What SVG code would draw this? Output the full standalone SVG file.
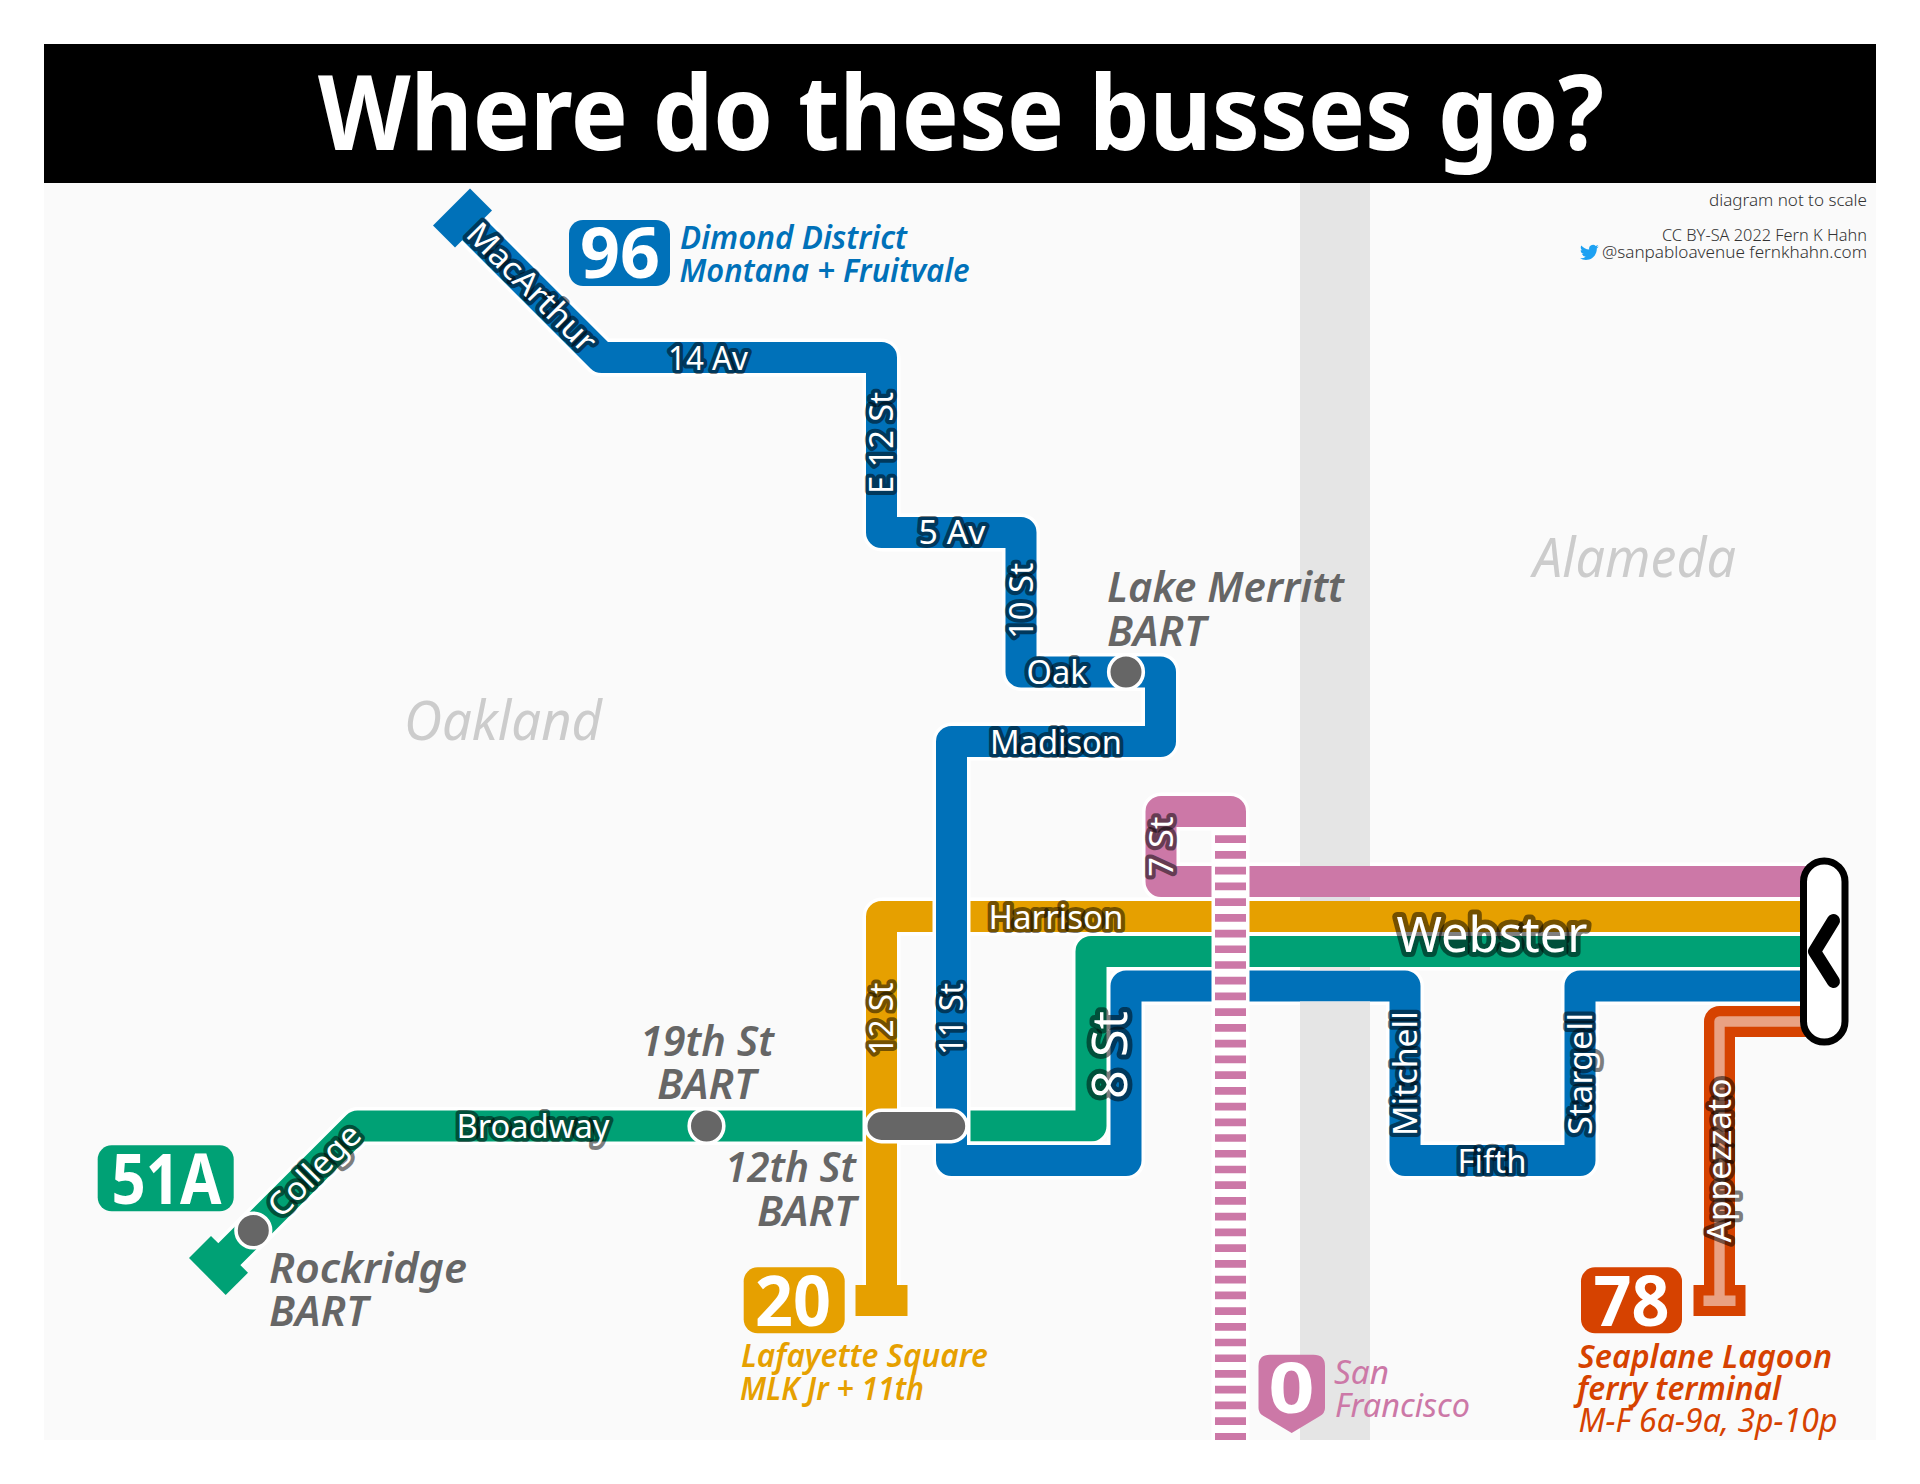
<svg xmlns="http://www.w3.org/2000/svg" width="1920" height="1484" viewBox="0 0 1920 1484">
<style>
text{font-family:"Noto Sans","Open Sans","Liberation Sans",sans-serif}
.l{fill:none;stroke-linejoin:round;stroke-linecap:butt}
.c{stroke:#fff;stroke-width:38}
.w{stroke-width:31}
.blue{stroke:#0071b9}.green{stroke:#00a175}.orange{stroke:#e6a000}.pink{stroke:#cc78a7}.red{stroke:#d64200}
.st{font-size:32px;font-weight:400;fill:#fff;stroke:#000;stroke-opacity:.5;stroke-width:8px;stroke-linejoin:round;paint-order:stroke;text-anchor:middle}
.big{font-size:50px}
.gr{fill:#666;font-size:42px;font-style:italic;font-weight:600}
.pl{fill:#ccc;font-size:54px;font-style:italic}
.num{fill:#fff;font-weight:700;font-size:70px;text-anchor:middle}
.dest{font-size:32px;font-style:italic;font-weight:600}
.sm{font-size:17px;fill:#333;font-weight:300;text-anchor:end}
.stn{fill:#666;stroke:#fff;stroke-width:3.6}
</style>
<rect width="1920" height="1484" fill="#fff"/>
<rect x="44" y="183" width="1832" height="1257" fill="#fafafa"/>
<rect x="1300" y="183" width="70" height="1257" fill="#e5e5e5"/>
<g id="title"><rect x="44" y="44" width="1832" height="139" fill="#000"/>
<text x="961" y="150" font-size="104" font-weight="700" fill="#fff" text-anchor="middle" textLength="1286" lengthAdjust="spacingAndGlyphs">Where do these busses go?</text></g>
<g id="places"><text class="pl" x="404" y="740" textLength="198" lengthAdjust="spacingAndGlyphs">Oakland</text><text class="pl" x="1533" y="577" textLength="203" lengthAdjust="spacingAndGlyphs">Alameda</text></g>
<g id="connectors">
<g id="line-51A"><path class="l c" d="M218,1265.5 L357.5,1126 H1091 V951.5 H1810"/><path class="l w green" d="M218,1265.5 L357.5,1126 H1091 V951.5 H1810"/><polygon points="211,1236 248,1272.7 225.7,1295 189,1258" fill="#00a175"/></g>
<g id="line-20"><path class="l c" d="M1810,916.5 H881.5 V1300"/><path class="l w orange" d="M1810,916.5 H881.5 V1300"/><rect x="855.5" y="1285" width="52" height="31" fill="#e6a000"/></g>
<g id="line-96"><path class="l c" d="M462,218 L601.5,357.5 H881.5 V532.5 H1021 V672 H1160.5 V741.5 H951.5 V1160.5 H1126 V986 H1405 V1160.5 H1580 V986 H1810"/><path class="l w blue" d="M462,218 L601.5,357.5 H881.5 V532.5 H1021 V672 H1160.5 V741.5 H951.5 V1160.5 H1126 V986 H1405 V1160.5 H1580 V986 H1810"/><polygon points="470,188.6 492,210.6 455,247.4 433,225.4" fill="#0071b9"/></g>
<g id="line-78"><path class="l w red" d="M1810,1021.5 H1719.5 V1300"/><rect x="1693.5" y="1285" width="52" height="31" fill="#d64200"/><path class="l" stroke="#e9a183" stroke-width="10.4" d="M1810,1021.5 H1719.5 V1300"/><rect x="1703.5" y="1295.5" width="32" height="10.5" fill="#e9a183"/></g>
<g id="line-0"><path class="l c" d="M1810,881.5 H1161 V811.5 H1230.5 V827"/><path class="l w pink" d="M1810,881.5 H1161 V811.5 H1230.5 V827"/><rect x="1211.5" y="827" width="38" height="613" fill="#fff"/><path fill="none" stroke="#cc78a7" stroke-width="31" stroke-dasharray="7.7 8.03" d="M1230.5,835.3 V1440"/></g>
<g id="water-gaps"><rect x="1300" y="861" width="70" height="5" fill="#e5e5e5"/><rect x="1300" y="897" width="70" height="4" fill="#e2e0e6"/><rect x="1300" y="967" width="70" height="3.5" fill="#efe8e8"/><rect x="1300" y="1001.5" width="70" height="5" fill="#e5e5e5"/></g>
</g>
<g id="street-labels">
<text class="st" transform="translate(532,287) rotate(45)" y="11.5" textLength="168" lengthAdjust="spacingAndGlyphs">MacArthur</text>
<text class="st" transform="translate(708,358.5)" y="11.5" textLength="80" lengthAdjust="spacingAndGlyphs">14 Av</text>
<text class="st" transform="translate(881.5,443) rotate(-90)" y="11.5" textLength="102" lengthAdjust="spacingAndGlyphs">E 12 St</text>
<text class="st" transform="translate(952,532.5)" y="11.5" textLength="67" lengthAdjust="spacingAndGlyphs">5 Av</text>
<text class="st" transform="translate(1021,601) rotate(-90)" y="11.5" textLength="76" lengthAdjust="spacingAndGlyphs">10 St</text>
<text class="st" transform="translate(1057,672)" y="11.5" textLength="61" lengthAdjust="spacingAndGlyphs">Oak</text>
<text class="st" transform="translate(1056,742.5)" y="11.5" textLength="132" lengthAdjust="spacingAndGlyphs">Madison</text>
<text class="st" transform="translate(1056,917)" y="11.5" textLength="135" lengthAdjust="spacingAndGlyphs">Harrison</text>
<text class="st" transform="translate(1161,846.7) rotate(-90)" y="11.5" textLength="60" lengthAdjust="spacingAndGlyphs">7 St</text>
<text class="st" transform="translate(881.5,1019) rotate(-90)" y="11.5" textLength="73" lengthAdjust="spacingAndGlyphs">12 St</text>
<text class="st" transform="translate(951.5,1019) rotate(-90)" y="11.5" textLength="72" lengthAdjust="spacingAndGlyphs">11 St</text>
<text class="st big" transform="translate(1108.5,1055) rotate(-90)" y="18" textLength="88" lengthAdjust="spacingAndGlyphs" style="stroke-width:10px">8 St</text>
<text class="st big" transform="translate(1492,934)" y="18" textLength="191" lengthAdjust="spacingAndGlyphs" style="stroke-width:10px">Webster</text>
<text class="st" transform="translate(1405,1073.5) rotate(-90)" y="11.5" textLength="125" lengthAdjust="spacingAndGlyphs">Mitchell</text>
<text class="st" transform="translate(1580,1074) rotate(-90)" y="11.5" textLength="122" lengthAdjust="spacingAndGlyphs">Stargell</text>
<text class="st" transform="translate(1492,1161)" y="11.5" textLength="69" lengthAdjust="spacingAndGlyphs">Fifth</text>
<text class="st" transform="translate(1719.5,1160.5) rotate(-90)" y="11.5" textLength="164" lengthAdjust="spacingAndGlyphs">Appezzato</text>
<text class="st" transform="translate(314,1170) rotate(-45)" y="11.5" textLength="116" lengthAdjust="spacingAndGlyphs">College</text>
<text class="st" transform="translate(533,1126)" y="11.5" textLength="153" lengthAdjust="spacingAndGlyphs">Broadway</text>
</g>
<g id="station-lake-merritt"><circle class="stn" cx="1126" cy="672" r="17.3"/><text class="gr" x="1107" y="602" textLength="237" lengthAdjust="spacingAndGlyphs">Lake Merritt</text><text class="gr" x="1107" y="646" textLength="99" lengthAdjust="spacingAndGlyphs">BART</text></g>
<g id="station-19th"><circle class="stn" cx="706.5" cy="1126" r="17.3"/><text class="gr" x="640" y="1056" textLength="134" lengthAdjust="spacingAndGlyphs">19th St</text><text class="gr" x="657" y="1099" textLength="99" lengthAdjust="spacingAndGlyphs">BART</text></g>
<g id="station-12th"><rect class="stn" x="865.7" y="1110.3" width="101.3" height="31.4" rx="15.7"/><text class="gr" x="725" y="1181.7" textLength="131" lengthAdjust="spacingAndGlyphs">12th St</text><text class="gr" x="757" y="1226" textLength="99" lengthAdjust="spacingAndGlyphs">BART</text></g>
<g id="station-rockridge"><circle class="stn" cx="253.3" cy="1230.5" r="17.3"/><text class="gr" x="269" y="1282.7" textLength="198" lengthAdjust="spacingAndGlyphs">Rockridge</text><text class="gr" x="269" y="1326" textLength="99" lengthAdjust="spacingAndGlyphs">BART</text></g>
<g id="route-96"><rect x="569" y="220" width="101" height="66" rx="14" fill="#0071b9"/><text class="num" x="620" y="278" textLength="80" lengthAdjust="spacingAndGlyphs">96</text><text class="dest" fill="#0071b9" x="680" y="249" textLength="227" lengthAdjust="spacingAndGlyphs">Dimond District</text><text class="dest" fill="#0071b9" x="679.5" y="281.7" textLength="290" lengthAdjust="spacingAndGlyphs">Montana + Fruitvale</text></g>
<g id="route-51A"><rect x="97.7" y="1145.3" width="136" height="66" rx="14" fill="#00a175"/><text class="num" x="166.5" y="1204" textLength="110" lengthAdjust="spacingAndGlyphs">51A</text></g>
<g id="route-20"><rect x="743.7" y="1267.3" width="101" height="66" rx="14" fill="#e6a000"/><text class="num" x="793" y="1326" textLength="76" lengthAdjust="spacingAndGlyphs">20</text><text class="dest" fill="#e6a000" x="741" y="1367" textLength="247" lengthAdjust="spacingAndGlyphs">Lafayette Square</text><text class="dest" fill="#e6a000" x="740" y="1400" textLength="184" lengthAdjust="spacingAndGlyphs">MLK Jr + 11th</text></g>
<g id="route-78"><rect x="1581" y="1267.3" width="101" height="66" rx="14" fill="#d64200"/><text class="num" x="1631.5" y="1326" textLength="76" lengthAdjust="spacingAndGlyphs">78</text><text class="dest" fill="#d64200" x="1578" y="1367.5" textLength="254" lengthAdjust="spacingAndGlyphs">Seaplane Lagoon</text><text class="dest" fill="#d64200" x="1577" y="1400" textLength="204" lengthAdjust="spacingAndGlyphs">ferry terminal</text><text class="dest" fill="#d64200" style="font-weight:400" x="1578.5" y="1431.7" textLength="259" lengthAdjust="spacingAndGlyphs">M-F 6a-9a, 3p-10p</text></g>
<g id="route-0"><path d="M1270,1354.7 H1313.5 Q1325,1354.7 1325,1366 V1408 Q1325,1413 1320,1416 L1291.7,1433 L1263.5,1416 Q1258.5,1413 1258.5,1408 V1366 Q1258.5,1354.7 1270,1354.7 Z" fill="#cc78a7"/><text class="num" x="1291.5" y="1413" textLength="46" lengthAdjust="spacingAndGlyphs">0</text><text class="dest" fill="#cc78a7" style="font-weight:400" x="1334" y="1384" textLength="55" lengthAdjust="spacingAndGlyphs">San</text><text class="dest" fill="#cc78a7" style="font-weight:400" x="1335" y="1416.7" textLength="135" lengthAdjust="spacingAndGlyphs">Francisco</text></g>
<g id="direction-marker"><rect x="1803.5" y="861" width="41.5" height="181" rx="20.7" fill="#fff" stroke="#000" stroke-width="7"/><path d="M1833.5,920.5 L1814.5,951.5 L1833.5,981.5" fill="none" stroke="#000" stroke-width="13" stroke-linecap="round" stroke-linejoin="round"/></g>
<g id="credits"><text class="sm" x="1867" y="205.7" textLength="158" lengthAdjust="spacingAndGlyphs">diagram not to scale</text><text class="sm" x="1867" y="240.7" textLength="205" lengthAdjust="spacingAndGlyphs">CC BY-SA 2022 Fern K Hahn</text><text class="sm" x="1867" y="258" textLength="265" lengthAdjust="spacingAndGlyphs">@sanpabloavenue fernkhahn.com</text>
<path transform="translate(1580,243) scale(.78)" fill="#1da1f2" d="M23.953 4.57a10 10 0 01-2.825.775 4.958 4.958 0 002.163-2.723c-.951.555-2.005.959-3.127 1.184a4.92 4.92 0 00-8.384 4.482C7.69 8.095 4.067 6.13 1.64 3.162a4.822 4.822 0 00-.666 2.475c0 1.71.87 3.213 2.188 4.096a4.904 4.904 0 01-2.228-.616v.06a4.923 4.923 0 003.946 4.827 4.996 4.996 0 01-2.212.085 4.936 4.936 0 004.604 3.417 9.867 9.867 0 01-6.102 2.105c-.39 0-.779-.023-1.17-.067a13.995 13.995 0 007.557 2.209c9.053 0 13.998-7.496 13.998-13.985 0-.21 0-.42-.015-.63A9.935 9.935 0 0024 4.59z"/></g>
</svg>
